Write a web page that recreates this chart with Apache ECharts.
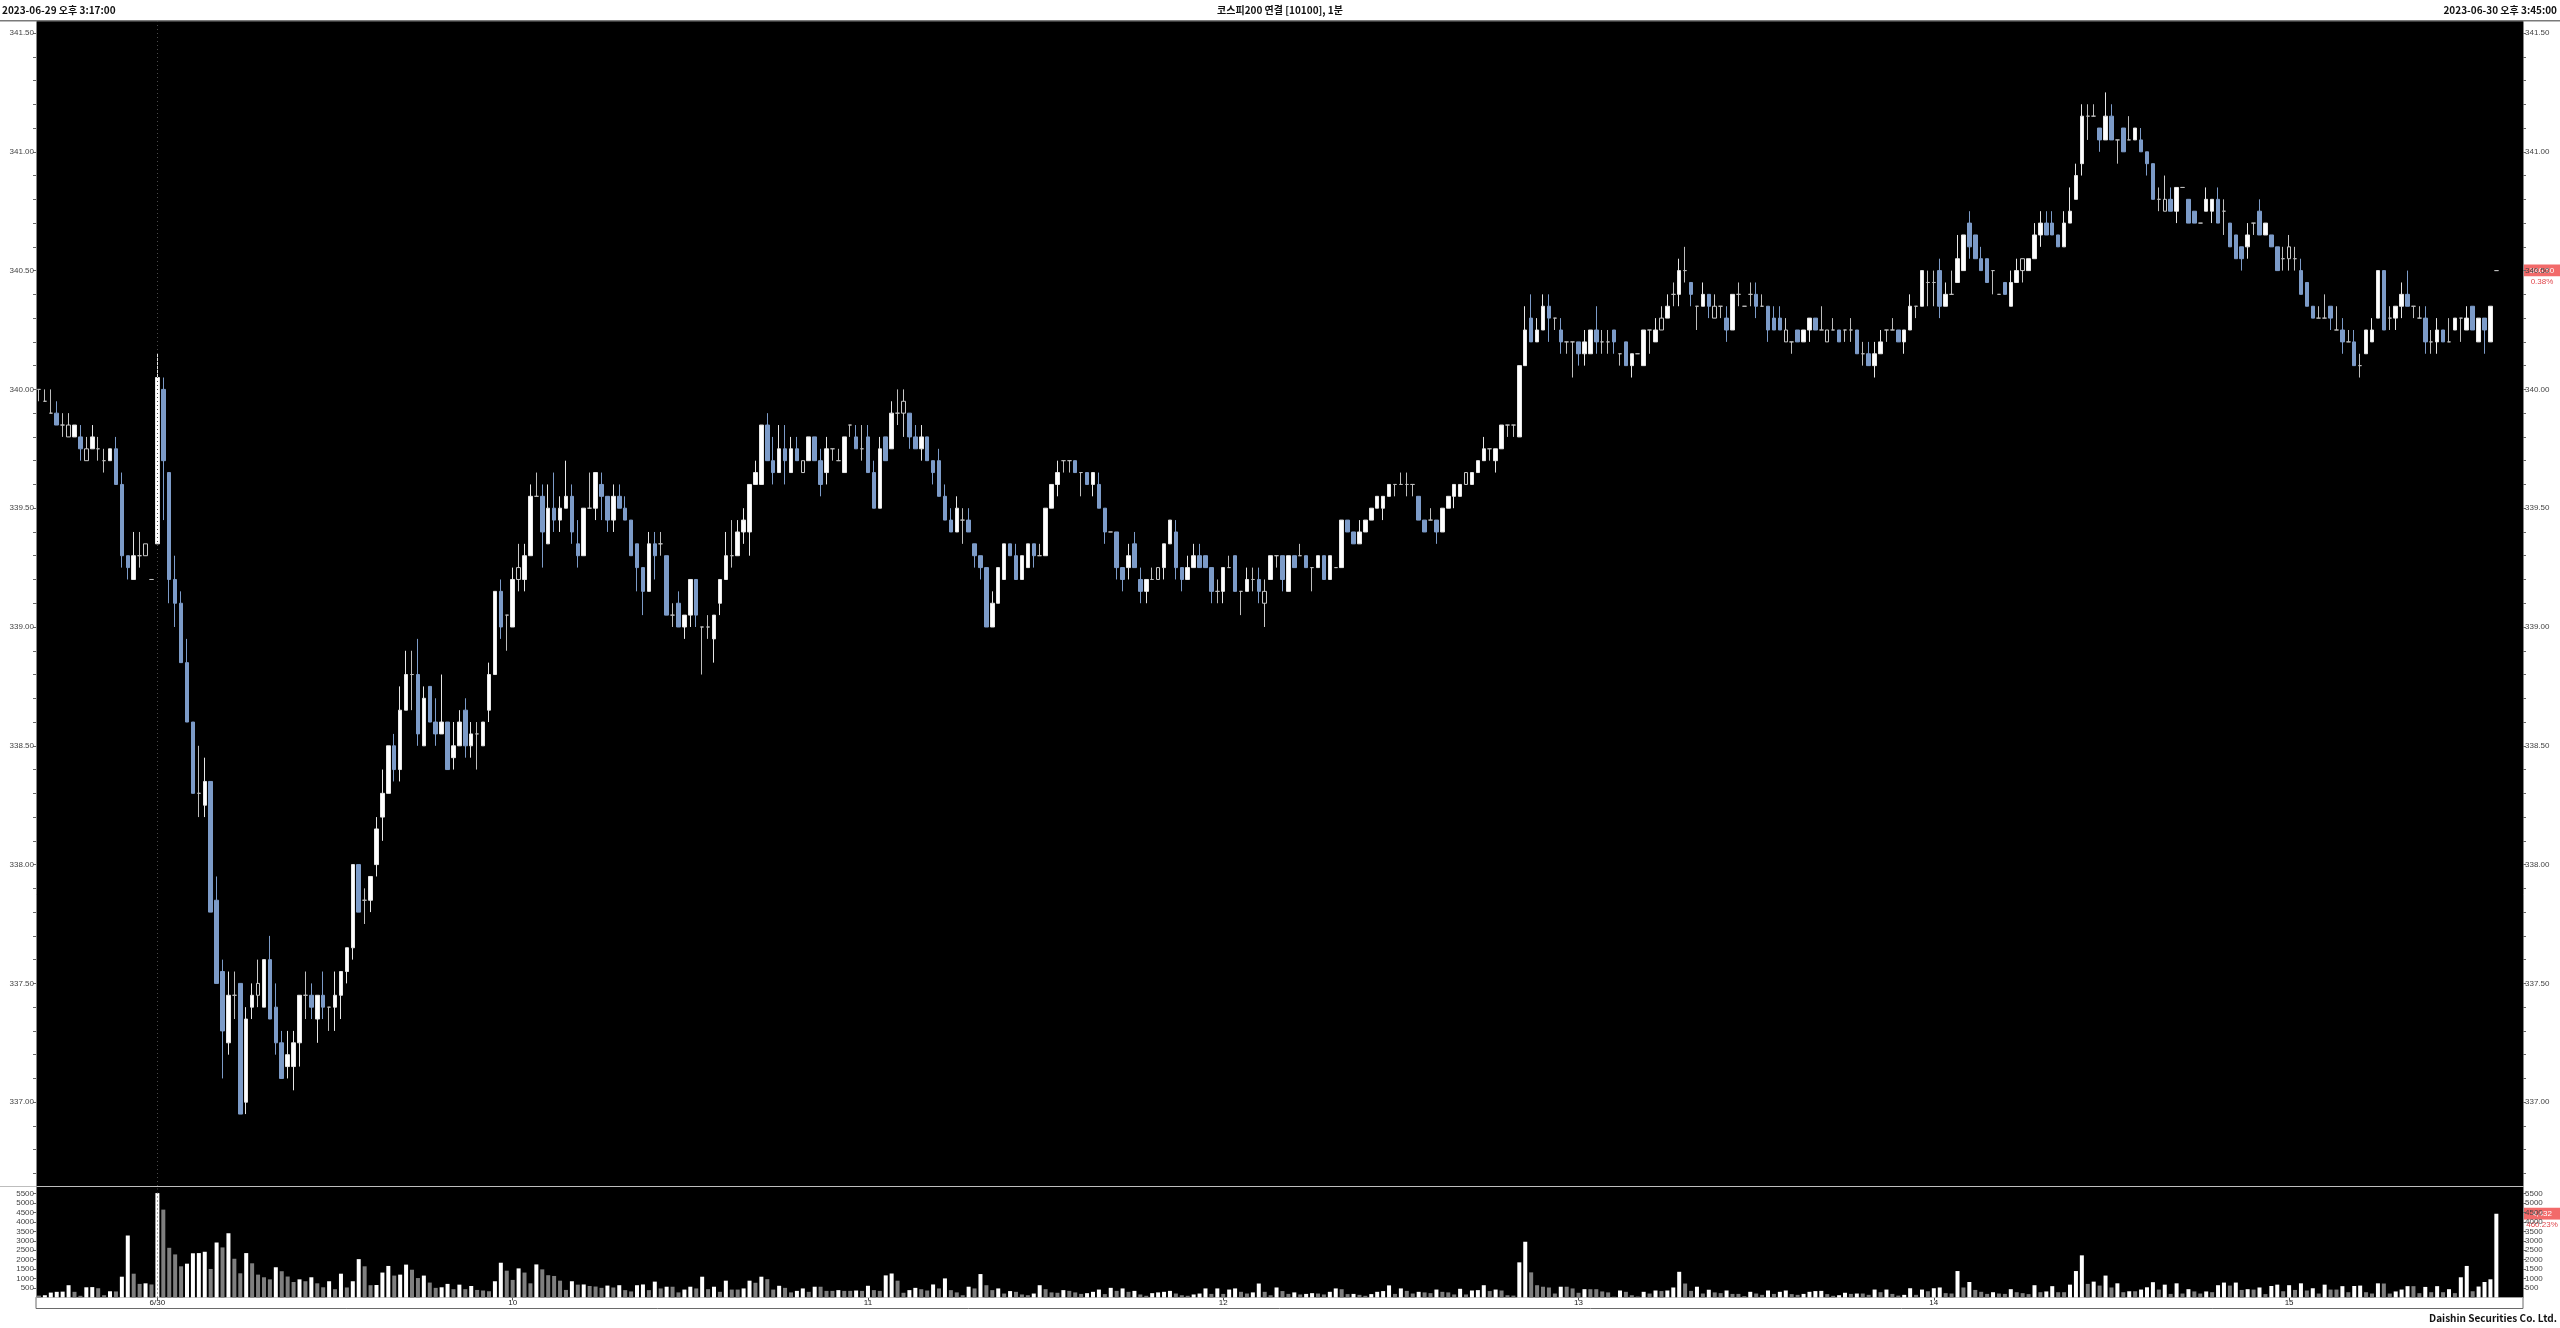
<!DOCTYPE html>
<html><head><meta charset="utf-8">
<script src="https://cdn.jsdelivr.net/npm/echarts@6/dist/echarts.min.js"></script>
<style>html,body{margin:0;padding:0;background:#fff;}#c{width:2560px;height:1328px;}</style>
</head><body><div id="c"></div><script>
// ---------------- DATA ----------------
const titleLeft = '2023-06-29 오후 3:17:00';
const titleCenter = '코스피200 연결 [10100], 1분';
const titleRight = '2023-06-30 오후 3:45:00';
const footer = 'Daishin Securities Co. Ltd.';

// rows: [open, high, low, close]
const candles0629 = [
[340,340,339.95,340],[339.95,340,339.95,339.95],[339.9,340,339.9,339.9],[339.9,339.95,339.85,339.85],
[339.85,339.9,339.8,339.85],[339.8,339.9,339.8,339.85],[339.8,339.85,339.8,339.85],[339.8,339.85,339.7,339.75],
[339.7,339.8,339.7,339.75],[339.75,339.85,339.75,339.8],[339.75,339.8,339.7,339.75],[339.7,339.75,339.65,339.7],
[339.7,339.75,339.7,339.75],[339.75,339.8,339.6,339.6],[339.6,339.65,339.25,339.3],[339.3,339.3,339.2,339.25],
[339.2,339.4,339.2,339.3],[339.3,339.4,339.25,339.3],[339.3,339.35,339.3,339.35],[339.2,339.2,339.2,339.2]
];
const candles0630am = [
[339.35,340.15,339.35,340.05],[340,340.05,339.45,339.7],[339.65,339.65,339.1,339.2],[339.2,339.3,339,339.1],
[339.1,339.15,338.85,338.85],[338.85,338.95,338.6,338.6],[338.6,338.6,338.3,338.3],[338.3,338.5,338.2,338.3],
[338.25,338.45,338.2,338.35],[338.35,338.35,337.8,337.8],[337.85,337.95,337.5,337.5],[337.55,337.6,337.1,337.3],
[337.25,337.55,337.2,337.45],[337.45,337.55,337.35,337.45],[337.5,337.5,336.95,336.95],[337,337.4,336.95,337.35],
[337.4,337.5,337.35,337.45],[337.45,337.6,337.4,337.5],[337.4,337.6,337.4,337.6],[337.6,337.7,337.35,337.35],
[337.4,337.5,337.2,337.25],[337.25,337.3,337.1,337.1],[337.15,337.3,337.1,337.2],[337.15,337.3,337.05,337.25],
[337.25,337.45,337.15,337.45],[337.45,337.55,337.35,337.45],[337.45,337.5,337.35,337.4],[337.35,337.45,337.25,337.45],
[337.45,337.55,337.35,337.4],[337.4,337.4,337.3,337.4],[337.4,337.55,337.3,337.45],[337.45,337.55,337.35,337.55],
[337.55,337.65,337.5,337.65],[337.65,338,337.6,338],[338,338,337.8,337.8],[337.85,337.9,337.75,337.85],
[337.85,337.95,337.8,337.95],[338,338.2,337.95,338.15],[338.2,338.4,338.1,338.3],[338.3,338.5,338.3,338.5],
[338.5,338.55,338.35,338.4],[338.4,338.75,338.35,338.65],[338.65,338.9,338.65,338.8],[338.8,338.9,338.65,338.8],
[338.8,338.95,338.5,338.55],[338.5,338.75,338.5,338.7],[338.75,338.75,338.6,338.6],[338.6,338.7,338.5,338.55],
[338.55,338.8,338.55,338.6],[338.6,338.6,338.4,338.4],[338.45,338.6,338.4,338.5],[338.5,338.65,338.5,338.6],
[338.65,338.7,338.45,338.5],[338.5,338.6,338.45,338.55],[338.55,338.6,338.4,338.55],[338.5,338.6,338.5,338.6],
[338.65,338.85,338.6,338.8],[338.8,339.15,338.8,339.15],[339.15,339.2,338.95,339],[339.05,339.05,338.9,339.05],
[339,339.25,339,339.2],[339.2,339.35,339.15,339.25],[339.2,339.35,339.15,339.3],[339.3,339.6,339.3,339.55],
[339.55,339.65,339.55,339.55],[339.55,339.6,339.25,339.4],[339.35,339.6,339.35,339.5],[339.5,339.65,339.4,339.45],
[339.45,339.55,339.4,339.5],[339.5,339.7,339.5,339.55],[339.55,339.6,339.35,339.4],[339.35,339.45,339.25,339.3],
[339.3,339.5,339.3,339.5],[339.5,339.65,339.5,339.5],[339.5,339.65,339.45,339.65],[339.6,339.65,339.45,339.55],
[339.55,339.55,339.4,339.45],[339.45,339.6,339.4,339.55],[339.55,339.6,339.5,339.5],[339.5,339.55,339.45,339.45],
[339.45,339.45,339.3,339.3],[339.35,339.35,339.15,339.25],[339.25,339.25,339.05,339.15],[339.15,339.4,339.15,339.35],
[339.35,339.4,339.2,339.3],[339.35,339.4,339.3,339.35],[339.3,339.3,339.05,339.05],[339.05,339.1,339,339.05],
[339.1,339.15,339,339],[339,339.05,338.95,339.05],[339.05,339.2,339,339.2],[339.2,339.2,339,339.05],
[339,339,338.8,339],[339,339.05,338.95,339],[338.95,339.05,338.85,339.05],[339.1,339.2,339.05,339.2],
[339.2,339.4,339.2,339.3],[339.3,339.45,339.25,339.3],[339.3,339.45,339.3,339.4],[339.4,339.5,339.35,339.45],
[339.4,339.6,339.3,339.6],[339.6,339.7,339.6,339.65],[339.6,339.85,339.6,339.85],[339.85,339.9,339.7,339.7],
[339.7,339.8,339.6,339.65],[339.65,339.85,339.65,339.75],[339.75,339.85,339.6,339.7],[339.65,339.8,339.65,339.75],
[339.75,339.8,339.7,339.7],[339.65,339.7,339.65,339.7],[339.7,339.8,339.7,339.8],[339.8,339.8,339.7,339.7],
[339.7,339.75,339.55,339.6],[339.65,339.8,339.6,339.75],[339.75,339.75,339.7,339.75],[339.7,339.75,339.7,339.7],
[339.65,339.8,339.65,339.8],[339.85,339.85,339.8,339.85],[339.8,339.85,339.75,339.75],[339.75,339.85,339.7,339.75],
[339.8,339.85,339.65,339.65],[339.65,339.7,339.5,339.5],[339.5,339.8,339.5,339.75],[339.8,339.8,339.7,339.7],
[339.75,339.95,339.75,339.9],[339.9,340,339.85,339.9],[339.9,340,339.8,339.95],[339.9,339.9,339.75,339.8],
[339.8,339.85,339.75,339.75],[339.75,339.85,339.7,339.8],[339.8,339.8,339.7,339.7],[339.7,339.7,339.6,339.65],
[339.7,339.75,339.55,339.55],[339.55,339.6,339.45,339.45],[339.45,339.5,339.4,339.4],[339.4,339.55,339.4,339.5],
[339.45,339.5,339.35,339.45],[339.45,339.5,339.4,339.4],[339.35,339.35,339.25,339.3],[339.3,339.3,339.2,339.25],
[339.25,339.25,339,339],[339,339.15,339,339.1],[339.1,339.25,339.1,339.25],[339.2,339.35,339.2,339.35],
[339.35,339.35,339.3,339.3],[339.3,339.35,339.2,339.2],[339.2,339.3,339.2,339.3],[339.25,339.35,339.25,339.35],
[339.35,339.35,339.25,339.3],[339.3,339.35,339.3,339.3],[339.3,339.5,339.3,339.5],[339.5,339.6,339.5,339.6],
[339.6,339.7,339.55,339.65],[339.7,339.7,339.65,339.7],[339.7,339.7,339.65,339.7],[339.7,339.7,339.65,339.65],
[339.65,339.65,339.55,339.65],[339.65,339.65,339.6,339.6],[339.6,339.65,339.55,339.65],[339.6,339.65,339.5,339.5],
[339.5,339.5,339.35,339.4],[339.4,339.4,339.4,339.4],[339.4,339.4,339.2,339.25],[339.25,339.25,339.15,339.2],
[339.25,339.35,339.2,339.3],[339.35,339.4,339.25,339.25],[339.2,339.25,339.1,339.15],[339.15,339.2,339.1,339.2],
[339.2,339.25,339.2,339.2],[339.2,339.25,339.2,339.25],[339.25,339.35,339.2,339.35],[339.35,339.45,339.35,339.45],
[339.4,339.45,339.2,339.25],[339.25,339.25,339.15,339.2],[339.2,339.3,339.2,339.25],[339.25,339.35,339.25,339.3],
[339.3,339.35,339.25,339.25],[339.3,339.3,339.25,339.25],[339.25,339.25,339.1,339.15],[339.15,339.2,339.1,339.15]
];
const candles0630pm = [
[339.15,339.25,339.1,339.25],[339.25,339.3,339.25,339.25],[339.3,339.3,339.15,339.15],[339.15,339.15,339.05,339.15],
[339.15,339.25,339.15,339.2],[339.2,339.25,339.15,339.2],[339.2,339.25,339.1,339.15],[339.1,339.2,339,339.15],
[339.2,339.3,339.2,339.3],[339.3,339.3,339.25,339.3],[339.3,339.3,339.15,339.2],[339.15,339.3,339.15,339.3],
[339.3,339.3,339.25,339.25],[339.3,339.35,339.3,339.3],[339.3,339.3,339.25,339.25],[339.25,339.25,339.15,339.25],
[339.25,339.3,339.25,339.3],[339.3,339.3,339.2,339.2],[339.2,339.3,339.2,339.3],[339.25,339.25,339.25,339.25],
[339.25,339.45,339.25,339.45],[339.45,339.45,339.4,339.4],[339.4,339.4,339.35,339.35],[339.35,339.45,339.35,339.4],
[339.4,339.45,339.4,339.45],[339.45,339.5,339.45,339.5],[339.5,339.55,339.5,339.55],[339.5,339.55,339.45,339.55],
[339.55,339.6,339.55,339.6],[339.6,339.6,339.55,339.6],[339.6,339.65,339.6,339.6],[339.6,339.65,339.55,339.6],
[339.6,339.6,339.55,339.6],[339.55,339.55,339.45,339.45],[339.45,339.45,339.4,339.4],[339.45,339.5,339.45,339.45],
[339.45,339.45,339.35,339.4],[339.4,339.5,339.4,339.5],[339.5,339.55,339.5,339.55],[339.55,339.6,339.5,339.6],
[339.55,339.6,339.55,339.6],[339.6,339.65,339.6,339.65],[339.6,339.65,339.6,339.65],[339.65,339.7,339.65,339.7],
[339.7,339.8,339.7,339.75],[339.75,339.75,339.7,339.75],[339.7,339.75,339.65,339.75],[339.75,339.85,339.75,339.85],
[339.85,339.85,339.8,339.85],[339.85,339.85,339.8,339.85],[339.8,340.1,339.8,340.1],[340.1,340.35,340.1,340.25],
[340.3,340.4,340.2,340.2],[340.2,340.3,340.2,340.25],[340.25,340.4,340.25,340.35],[340.35,340.4,340.2,340.3],
[340.3,340.3,340.25,340.3],[340.25,340.3,340.15,340.2],[340.2,340.2,340.15,340.2],[340.2,340.2,340.05,340.2],
[340.2,340.2,340.1,340.15],[340.15,340.25,340.1,340.2],[340.15,340.25,340.15,340.25],[340.25,340.35,340.15,340.2],
[340.2,340.25,340.15,340.2],[340.2,340.25,340.15,340.2],[340.25,340.25,340.15,340.2],[340.15,340.15,340.1,340.15],
[340.2,340.2,340.1,340.1],[340.1,340.15,340.05,340.15],[340.15,340.15,340.15,340.15],[340.1,340.25,340.1,340.25],
[340.25,340.25,340.15,340.25],[340.2,340.3,340.2,340.25],[340.25,340.35,340.25,340.3],[340.3,340.4,340.3,340.35],
[340.4,340.45,340.35,340.4],[340.4,340.55,340.35,340.5],[340.5,340.6,340.45,340.5],[340.45,340.45,340.35,340.4],
[340.35,340.35,340.25,340.35],[340.35,340.45,340.35,340.4],[340.4,340.4,340.3,340.35],[340.3,340.4,340.3,340.35],
[340.35,340.35,340.3,340.35],[340.3,340.35,340.2,340.25],[340.25,340.4,340.25,340.4],[340.4,340.45,340.35,340.4],
[340.35,340.35,340.35,340.35],[340.4,340.45,340.35,340.4],[340.4,340.45,340.3,340.35],[340.35,340.4,340.35,340.35],
[340.35,340.35,340.2,340.25],[340.3,340.35,340.25,340.25],[340.3,340.35,340.25,340.25],[340.2,340.3,340.2,340.25],
[340.2,340.2,340.15,340.2],[340.25,340.25,340.2,340.2],[340.2,340.25,340.2,340.25],[340.25,340.3,340.2,340.3],
[340.3,340.3,340.25,340.25],[340.25,340.35,340.25,340.25],[340.2,340.25,340.2,340.25],[340.25,340.3,340.25,340.25],
[340.25,340.25,340.2,340.2],[340.25,340.25,340.2,340.25],[340.25,340.3,340.2,340.25],[340.25,340.25,340.15,340.15],
[340.15,340.2,340.1,340.15],[340.15,340.2,340.1,340.1],[340.1,340.2,340.05,340.15],[340.15,340.25,340.15,340.2],
[340.25,340.25,340.2,340.25],[340.25,340.3,340.25,340.25],[340.25,340.25,340.2,340.2],[340.2,340.25,340.15,340.25],
[340.25,340.4,340.25,340.35],[340.35,340.35,340.3,340.35],[340.35,340.5,340.35,340.5],[340.45,340.5,340.35,340.45],
[340.45,340.5,340.35,340.45],[340.5,340.55,340.3,340.35],[340.35,340.45,340.35,340.4],[340.4,340.5,340.4,340.4],
[340.45,340.65,340.45,340.55],[340.5,340.65,340.5,340.65],[340.7,340.75,340.55,340.6],[340.65,340.65,340.55,340.55],
[340.55,340.6,340.5,340.5],[340.55,340.55,340.45,340.45],[340.5,340.5,340.4,340.5],[340.4,340.4,340.4,340.4],
[340.45,340.45,340.4,340.4],[340.35,340.5,340.35,340.45],[340.45,340.55,340.45,340.5],[340.5,340.55,340.45,340.55],
[340.5,340.55,340.5,340.55],[340.55,340.7,340.55,340.65],[340.65,340.75,340.6,340.7],[340.7,340.75,340.65,340.65],
[340.7,340.75,340.65,340.65],[340.65,340.65,340.6,340.6],[340.6,340.75,340.6,340.7],[340.7,340.85,340.7,340.75],
[340.8,340.95,340.8,340.9],[340.95,341.2,340.9,341.15],[341.15,341.2,341.05,341.15],[341.15,341.2,341.15,341.15],
[341.1,341.1,341,341.05],[341.05,341.25,341.05,341.15],[341.15,341.2,341.05,341.05],[341.05,341.05,340.95,341.05],
[341.1,341.1,341,341],[341.05,341.15,341.05,341.05],[341.05,341.1,341.05,341.1],[341.05,341.1,341,341],
[341,341,340.9,340.95],[340.95,340.95,340.8,340.8],[340.8,340.85,340.75,340.8],[340.75,340.9,340.75,340.8],
[340.8,340.85,340.75,340.75],[340.75,340.85,340.7,340.85],[340.85,340.85,340.85,340.85],[340.8,340.8,340.7,340.7],
[340.75,340.75,340.7,340.7],[340.7,340.7,340.7,340.7],[340.75,340.85,340.75,340.8],[340.75,340.8,340.7,340.8],
[340.8,340.85,340.7,340.7],[340.75,340.8,340.65,340.75],[340.7,340.7,340.6,340.6],[340.65,340.65,340.55,340.55],
[340.6,340.6,340.5,340.55],[340.6,340.7,340.55,340.65],[340.7,340.7,340.65,340.7],[340.75,340.8,340.65,340.65],
[340.65,340.7,340.65,340.7],[340.65,340.65,340.6,340.6],[340.6,340.6,340.5,340.5],[340.55,340.6,340.5,340.55],
[340.55,340.65,340.5,340.6],[340.55,340.6,340.5,340.55],[340.5,340.55,340.4,340.4],[340.45,340.45,340.35,340.35],
[340.35,340.35,340.3,340.3],[340.3,340.35,340.3,340.3],[340.3,340.4,340.3,340.3],[340.35,340.35,340.25,340.3],
[340.25,340.35,340.25,340.25],[340.25,340.3,340.15,340.2],[340.2,340.25,340.2,340.2],[340.2,340.25,340.1,340.1],
[340.1,340.15,340.05,340.1],[340.15,340.25,340.15,340.25],[340.2,340.3,340.2,340.25],[340.3,340.5,340.3,340.5],
[340.5,340.5,340.25,340.25],[340.3,340.35,340.25,340.3],[340.3,340.35,340.25,340.35],[340.35,340.45,340.3,340.4],
[340.4,340.5,340.35,340.35],[340.35,340.35,340.3,340.35],[340.3,340.35,340.3,340.3],[340.3,340.35,340.15,340.2],
[340.2,340.25,340.15,340.2],[340.2,340.3,340.15,340.25],[340.25,340.25,340.2,340.2],[340.2,340.3,340.2,340.2],
[340.25,340.3,340.25,340.3],[340.3,340.3,340.2,340.3],[340.25,340.35,340.25,340.3],[340.35,340.35,340.25,340.25],
[340.2,340.3,340.2,340.3],[340.3,340.3,340.15,340.25],[340.2,340.35,340.2,340.35],[340.5,340.5,340.5,340.5]
];
// candles drawn hollow (outlined) in the reference, by overall index
const hollowIdx = [5,8,18,37,81,129,146,189,207,241,274,283,295,302,335,359,380];

const volume0629 = [100,120,260,300,310,650,300,90,540,550,490,120,330,320,1100,3280,1260,720,750,690];
const volume0630am = [
5525,4650,2630,2280,1650,1790,2340,2350,2420,1510,2910,2650,3400,2050,1280,2350,1810,1210,1070,960,
1600,1390,1110,820,960,860,1070,750,540,860,440,1260,530,860,2030,1650,650,660,1320,1670,
1160,1210,1740,1470,1030,1160,790,510,540,720,440,680,440,610,400,370,330,860,1840,1420,
930,1540,1320,750,1750,1490,1180,1140,890,400,860,680,690,610,580,510,630,530,650,390,
320,650,690,390,840,480,570,570,270,420,570,480,1100,440,570,300,890,420,420,480,
890,780,1100,970,420,620,510,270,350,480,300,570,570,350,350,390,350,350,370,350,
620,390,350,1170,1270,890,250,390,510,440,370,690,480,1010,390,270,120,570,480,1240,
650,390,480,210,340,300,160,120,210,650,440,270,250,390,350,270,190,230,300,420,
180,510,350,480,300,350,160,90,230,270,300,350,210,120,90,160,210,480,190,480
];
const volume0630pm = [
190,420,480,300,210,270,740,300,120,530,340,190,270,160,190,230,210,160,300,480,
440,180,190,140,90,180,300,340,640,190,480,350,210,300,270,230,420,300,270,160,
460,160,370,390,650,340,420,370,120,100,1860,2950,1330,650,570,530,210,570,570,480,
250,440,440,440,320,270,40,370,300,120,50,300,210,370,340,370,530,1360,740,350,
570,210,410,270,230,370,190,190,70,300,210,140,370,190,300,370,180,140,190,300,
340,350,180,90,120,250,190,210,
210,140,420,280,420,190,100,140,490,140,420,330,490,530,230,210,1400,530,820,400,
300,190,280,210,190,440,280,230,180,650,280,320,600,280,280,680,1400,2230,720,840,
630,1160,530,750,280,330,330,420,540,810,420,680,190,750,210,440,320,210,320,280,
650,790,630,790,400,440,420,530,180,610,680,330,650,400,750,370,490,210,680,420,
420,600,280,610,630,280,210,750,740,210,320,420,600,600,230,560,280,600,280,440,
230,1070,1670,330,580,820,963,4432
];

const priceLabels = [337,337.5,338,338.5,339,339.5,340,340.5,341,341.5];
const volumeLabels = [500,1000,1500,2000,2500,3000,3500,4000,4500,5000,5500];
const xTickIndex = [20,80,140,200,260,320,380];
const xTickText = ['6/30','10','11','12','13','14','15'];

// ---------------- BUILD ----------------
const pad = n => (n < 10 ? '0' : '') + n;
const categories = [];
for (let m = 16; m <= 34; m++) categories.push('06-29 15:' + pad(m));
categories.push('06-29 15:45');
for (let t = 540; t < 935; t++) categories.push('06-30 ' + pad(Math.floor(t / 60)) + ':' + pad(t % 60));
categories.push('06-30 15:45');
let padN = 0;
while (categories.length < 420) categories.push('pad' + (++padN));

const rows = candles0629.concat(candles0630am, candles0630pm);
const volumes = volume0629.concat(volume0630am, volume0630pm);
const candleData = rows.map((r, i) => {
  const v = [r[0], r[3], r[2], r[1]];
  if (hollowIdx.indexOf(i) >= 0) return { value: v, itemStyle: { color: '#000000', borderColor: '#c8c8c8' } };
  return v;
});
const minorTicks = [];
for (let t = 3367; t <= 3415; t++) minorTicks.push(t / 10);
const labelMap = {};
xTickIndex.forEach((k, i) => { labelMap[k] = xTickText[i]; });

const FONT = 'Liberation Sans';
const axisText = { fontFamily: FONT, fontSize: 8, color: '#444' };

const chart = echarts.init(document.getElementById('c'), null, { renderer: 'canvas' });
const gridL = 36, gridR = 37;
const priceAxis = (pos) => ({
  type: 'value', gridIndex: 0, position: pos, min: 336.6473, max: 341.5505, scale: true,
  axisLine: { show: true, lineStyle: { color: '#888' } },
  splitLine: { show: false },
  axisTick: { show: true, length: 3, inside: false, customValues: minorTicks, lineStyle: { color: '#666' } },
  axisLabel: Object.assign({ show: true, margin: 2, customValues: priceLabels, formatter: v => v.toFixed(2) }, axisText)
});
const volAxis = (pos) => ({
  type: 'value', gridIndex: 1, position: pos, min: 0, max: 5847,
  axisLine: { show: true, lineStyle: { color: '#888' } },
  splitLine: { show: false },
  axisTick: { show: true, length: 3, customValues: volumeLabels, lineStyle: { color: '#666' } },
  axisLabel: Object.assign({ show: true, margin: 2, customValues: volumeLabels, formatter: v => String(v) }, axisText)
});
const dotted = {
  symbol: 'none', silent: true, animation: false,
  lineStyle: { type: [1, 3], color: '#4a4a4a', width: 1 },
  label: { show: false }, data: [{ xAxis: 20 }]
};

chart.setOption({
  animation: false,
  backgroundColor: '#ffffff',
  grid: [
    { left: gridL, right: gridR, top: 21, height: 1165, show: true, backgroundColor: '#000', borderWidth: 0 },
    { left: gridL, right: gridR, top: 1187, height: 110.5, show: true, backgroundColor: '#000', borderWidth: 0 }
  ],
  xAxis: [
    { type: 'category', gridIndex: 0, data: categories, boundaryGap: true,
      axisLine: { show: false }, axisTick: { show: false }, axisLabel: { show: false }, splitLine: { show: false } },
    { type: 'category', gridIndex: 1, data: categories, boundaryGap: true,
      axisLine: { show: true, lineStyle: { color: '#9a9a9a' } },
      axisTick: { show: true, alignWithLabel: true, length: 3, interval: (i) => labelMap[i] !== undefined, lineStyle: { color: '#555' } },
      axisLabel: { show: true, interval: (i) => labelMap[i] !== undefined, formatter: (v, i) => labelMap[i] || '',
        margin: 1, fontFamily: FONT, fontSize: 8, color: '#222' },
      splitLine: { show: false } }
  ],
  yAxis: [priceAxis('left'), priceAxis('right'), volAxis('left'), volAxis('right')],
  series: [
    { type: 'candlestick', xAxisIndex: 0, yAxisIndex: 0, data: candleData, barWidth: 4,
      itemStyle: { color: '#ffffff', color0: '#7c9bc8', borderColor: '#e6e6e6', borderColor0: '#7c9bc8',
        borderColorDoji: '#bdbdbd', borderWidth: 1 },
      markLine: dotted },
    { type: 'bar', xAxisIndex: 1, yAxisIndex: 2, data: volumes, barWidth: 4,
      itemStyle: { color: (p) => (p.dataIndex > 0 && volumes[p.dataIndex] > volumes[p.dataIndex - 1]) ? '#ffffff' : '#7f7f7f' },
      markLine: dotted }
  ]
});

// ---- annotations tied to the data ----
const lastRow = rows[rows.length - 1];
const lastClose = lastRow[3];
const prevDayClose = candles0629[candles0629.length - 1][3];
const chgPct = ((lastClose - prevDayClose) / prevDayClose * 100).toFixed(2) + '%';
const lastVol = volumes[rows.length - 1];
const prevVol = volumes[rows.length - 2];
const volPct = (lastVol / prevVol * 100).toFixed(2) + '%';
const yPrice = chart.convertToPixel({ yAxisIndex: 0 }, lastClose);
const yVol = chart.convertToPixel({ yAxisIndex: 2 }, lastVol);
const plotRight = 2560 - gridR;
const boxX = plotRight + 1, boxW = 2560 - plotRight - 1;
const titleFont = 'bold 10px "Noto Sans CJK KR"';

chart.setOption({
  graphic: [
    { type: 'rect', shape: { x: 0, y: 20, width: 2560, height: 1.5 }, style: { fill: '#7a7a7a' }, silent: true },
    { type: 'text', x: 2, y: 10, style: { text: titleLeft, font: titleFont, fill: '#111', verticalAlign: 'middle' } },
    { type: 'text', x: 1280, y: 10, style: { text: titleCenter, font: titleFont, fill: '#111', align: 'center', verticalAlign: 'middle' } },
    { type: 'text', x: 2557, y: 10, style: { text: titleRight, font: titleFont, fill: '#111', align: 'right', verticalAlign: 'middle' } },
    { type: 'rect', shape: { x: 0, y: 1186, width: plotRight, height: 1 }, style: { fill: '#bdbdbd' }, silent: true },
    { type: 'rect', shape: { x: gridL, y: 1297.5, width: plotRight - gridL, height: 11 }, style: { fill: 'none', stroke: '#6a6a6a', lineWidth: 1 }, silent: true },
    { type: 'text', x: 2557, y: 1318, style: { text: footer, font: titleFont, fill: '#111', align: 'right', verticalAlign: 'middle' } },
    // last price box
    { type: 'rect', shape: { x: boxX, y: yPrice - 6, width: boxW, height: 12 }, style: { fill: '#f26a6a' }, silent: true },
    { type: 'text', x: boxX + boxW / 2, y: yPrice, style: { text: lastClose.toFixed(2), font: '8px "Liberation Sans"', fill: '#ffffff', align: 'center', verticalAlign: 'middle' } },
    { type: 'rect', shape: { x: boxX, y: yPrice + 6, width: boxW, height: 11 }, style: { fill: '#ffffff' }, silent: true },
    { type: 'text', x: boxX + boxW / 2, y: yPrice + 11, style: { text: chgPct, font: '8px "Liberation Sans"', fill: '#e0474c', align: 'center', verticalAlign: 'middle' } },
    // last volume box
    { type: 'rect', shape: { x: boxX, y: yVol - 6, width: boxW, height: 12 }, style: { fill: '#f26a6a' }, silent: true },
    { type: 'text', x: boxX + boxW / 2, y: yVol, style: { text: lastVol.toLocaleString('en-US'), font: '8px "Liberation Sans"', fill: '#ffffff', align: 'center', verticalAlign: 'middle' } },
    { type: 'rect', shape: { x: boxX, y: yVol + 6, width: boxW, height: 11 }, style: { fill: '#ffffff' }, silent: true },
    { type: 'text', x: boxX + boxW / 2, y: yVol + 11, style: { text: volPct, font: '8px "Liberation Sans"', fill: '#e0474c', align: 'center', verticalAlign: 'middle' } }
  ]
});
</script></body></html>
